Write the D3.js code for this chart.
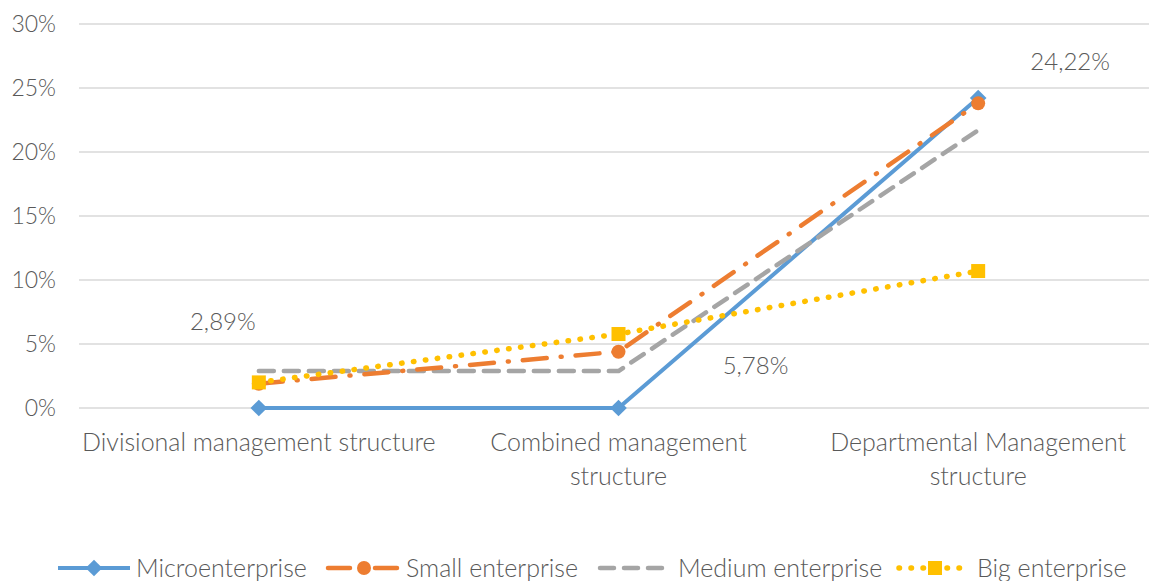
<!DOCTYPE html>
<html><head><meta charset="utf-8">
<script src="https://cdn.jsdelivr.net/npm/d3@7/dist/d3.min.js"></script>
<style>
body{margin:0;background:#fff;}
svg{display:block;}
text{font-family:Lato,"Open Sans",sans-serif;font-weight:300;fill:#595959;}
</style></head><body>
<svg id="c" width="1149" height="581"></svg>
<script>
const categories = [["Divisional management structure"], ["Combined management", "structure"], ["Departmental Management", "structure"]];
const seriesNames = ["Microenterprise", "Small enterprise", "Medium enterprise", "Big enterprise"];
const micro = [0, 0, 24.22];
const small = [1.9, 4.4, 23.8];
const medium = [2.89, 2.89, 21.7];
const big = [2.0, 5.78, 10.7];
const yTicks = [0, 5, 10, 15, 20, 25, 30];
const dataLabels = [{s: 2, i: 0, text: "2,89%"}, {s: 3, i: 1, text: "5,78%"}, {s: 0, i: 2, text: "24,22%"}];

const svg = d3.select("#c");
const x = d3.scaleBand().domain([0,1,2]).range([79, 1158]);
const y = d3.scaleLinear().domain([0, 30]).range([408, 24]);
const cx = i => x(i) + x.bandwidth()/2;

// gridlines
svg.append("g").selectAll("line").data(yTicks).join("line")
  .attr("x1", 79).attr("x2", 1149).attr("y1", d => y(d)).attr("y2", d => y(d))
  .attr("stroke", "#d9d9d9").attr("stroke-width", 1.3);

// y labels
svg.append("g").selectAll("text").data(yTicks).join("text")
  .attr("x", 56).attr("y", d => y(d)).attr("dy", "0.35em").attr("text-anchor", "end")
  .attr("font-size", 23).text(d => d + "%");

// category labels
const cg = svg.append("g").selectAll("text").data(categories).join("text")
  .attr("text-anchor", "middle").attr("font-size", 25);
cg.each(function(lines, i){
  d3.select(this).selectAll("tspan").data(lines).join("tspan")
    .attr("x", cx(i)).attr("y", (d, j) => 451 + j*34).text(d => d);
});

const styles = [
  {data: micro, color: "#5B9BD5", dash: null, width: 4, cap: "butt", marker: "diamond"},
  {data: small, color: "#ED7D31", dash: "24,14,1,14", width: 4.5, cap: "round", marker: "circle"},
  {data: medium, color: "#A5A5A5", dash: "15,10", width: 4.5, cap: "round", marker: null},
  {data: big, color: "#FFC000", dash: "0.5,11.5", width: 5.5, cap: "round", marker: "square"}
];
const line = d3.line().x((d, i) => cx(i)).y(d => y(d));
const order = [0, 2, 1, 3];
order.forEach(k => {
  const s = styles[k];
  svg.append("path").datum(s.data).attr("d", line)
    .attr("fill", "none").attr("stroke", s.color).attr("stroke-width", s.width)
    .attr("stroke-dasharray", s.dash).attr("stroke-linecap", s.cap).attr("stroke-linejoin", "round");
});
function marker(g, type, color, px, py, size){
  if (type === "diamond") {
    g.append("path").attr("d", d3.symbol(d3.symbolDiamond2 || d3.symbolDiamond, size*size*0.9)()).attr("transform", `translate(${px},${py})`).attr("fill", color);
  } else if (type === "circle") {
    g.append("circle").attr("cx", px).attr("cy", py).attr("r", size/2).attr("fill", color);
  } else if (type === "square") {
    g.append("rect").attr("x", px - size/2).attr("y", py - size/2).attr("width", size).attr("height", size).attr("fill", color);
  }
}
order.forEach(k => {
  const s = styles[k];
  if (!s.marker) return;
  const g = svg.append("g");
  s.data.forEach((v, i) => marker(g, s.marker, s.color, cx(i), y(v), 14));
});

// data labels
const offsets = [[-36, -49], [137, 32], [92, -36]];
dataLabels.forEach((d, j) => {
  const s = styles[d.s];
  svg.append("text").attr("x", cx(d.i) + offsets[j][0]).attr("y", y(s.data[d.i]) + offsets[j][1])
    .attr("dy", "0.35em").attr("text-anchor", "middle").attr("font-size", 24).text(d.text);
});

// legend
const legX = [58, 328, 600, 899];
const lg = svg.append("g");
styles.forEach((s, k) => {
  const x0 = legX[k], ly = 568;
  lg.append("line").attr("x1", x0).attr("x2", x0 + 72).attr("y1", ly).attr("y2", ly)
    .attr("stroke", s.color).attr("stroke-width", s.width)
    .attr("stroke-dasharray", k === 1 ? "22,12,1,12" : (k === 2 ? "14,10" : s.dash)).attr("stroke-linecap", s.cap);
  if (s.marker) marker(lg, s.marker, s.color, x0 + 36, ly, 14);
  lg.append("text").attr("x", x0 + 78).attr("y", ly).attr("dy", "0.35em").attr("font-size", 25).text(seriesNames[k]);
});
</script>
</body></html>
